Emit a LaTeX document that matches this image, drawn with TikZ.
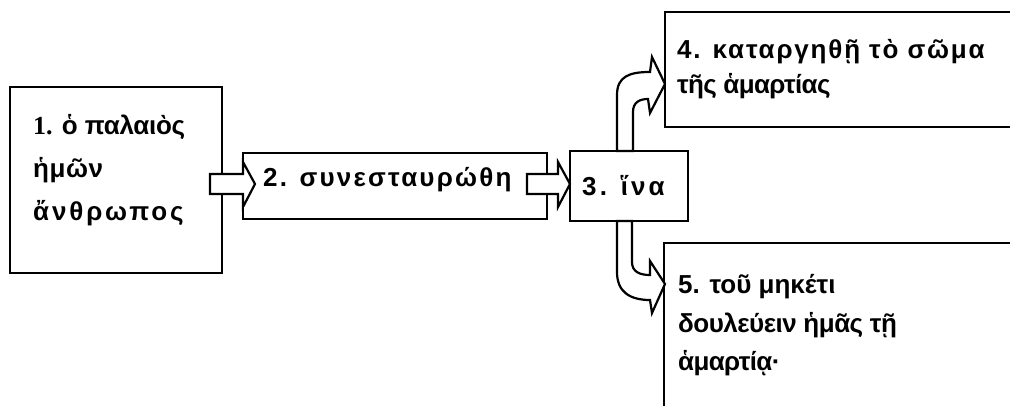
\documentclass[tikz,border=0pt]{standalone}
\usepackage{fontspec}
\usetikzlibrary{calc}
\setmainfont{Liberation Sans}
\newfontfamily\numserif{Liberation Serif}
\newcommand\lspace[2]{{\addfontfeatures{LetterSpace=#1}#2}}
\begin{document}
\begin{tikzpicture}[x=1pt,y=-1pt,
  box/.style={draw=black,line width=2.6pt,fill=white,inner sep=0pt,outer sep=0pt},
  blockarrow/.style={draw=black,line width=2.2pt,fill=white,line join=miter},
  txt/.style={anchor=base west,inner sep=0pt,font=\fontsize{26}{30}\selectfont\bfseries}]
\clip (0,0) rectangle (1010,406);
% boxes
\node[box,minimum width=212,minimum height=186] (b1) at (116,180) {};
\node[box,minimum width=304,minimum height=66] (b2) at (395,186) {};
\node[box,minimum width=118,minimum height=70] (b3) at (629,186) {};
\node[box,minimum width=375,minimum height=115] (b4) at (852.5,69.5) {};
\node[box,minimum width=376,minimum height=197] (b5) at (852,341.5) {};
% block arrows
\draw[blockarrow] ($(b1.east)+(-12,-6)$) coordinate (a12s) -- (243,174) -- (243,162) -- (255,184) coordinate (a12t) -- (243,207) -- (243,194) -- (210,194) -- cycle;
\draw[blockarrow] ($(b2.east)+(-20,-12)$) coordinate (a23s) -- (558,174) -- (558,162) -- (570,184) coordinate (a23t) -- (558,207) -- (558,194) -- (527,194) -- cycle;
\draw[blockarrow] ($(b3.north)+(-12,0)$) coordinate (a34s) -- (617,95) .. controls (617,76) and (630,72) .. (650,72) -- (652,57) -- (665,84) coordinate (a34t) -- (650,113) -- (648,99) .. controls (640,99) and (633,102) .. (633,112) -- (633,151) -- cycle;
\draw[blockarrow] ($(b3.south)+(-12,0)$) coordinate (a35s) -- (617,272) .. controls (617,292) and (630,300) .. (650,300) -- (652,313) -- (665,284) coordinate (a35t) -- (650,261) -- (650,275) .. controls (640,275) and (632,272) .. (632,262) -- (632,221) -- cycle;
% texts
\node[txt] (t1a) at (33,135) {\lspace{-1}{{\numserif\bfseries 1.} ὁ παλαιὸς}};
\node[txt] (t1b) at (33,178) {\lspace{2}{ἡμῶν}};
\node[txt] (t1c) at (33,221) {\lspace{11}{ἄνθρωπος}};
\node[txt] (t2) at (263,187) {\lspace{8.5}{2. συνεσταυρώθη}};
\node[txt] (t3) at (582,196) {\lspace{12}{3. ἵνα}};
\node[txt] (t4a) at (677,59) {\lspace{7}{4. καταργηθῇ τὸ σῶμα}};
\node[txt] (t4b) at (677,94) {\lspace{-2.5}{τῆς ἁμαρτίας}};
\node[txt] (t5a) at (678,294) {\lspace{0}{5. τοῦ μηκέτι}};
\node[txt] (t5b) at (678,333) {\lspace{-2}{δουλεύειν ἡμᾶς τῇ}};
\node[txt] (t5c) at (678,370) {\lspace{-2.5}{ἁμαρτίᾳ·}};
\end{tikzpicture}
\end{document}
